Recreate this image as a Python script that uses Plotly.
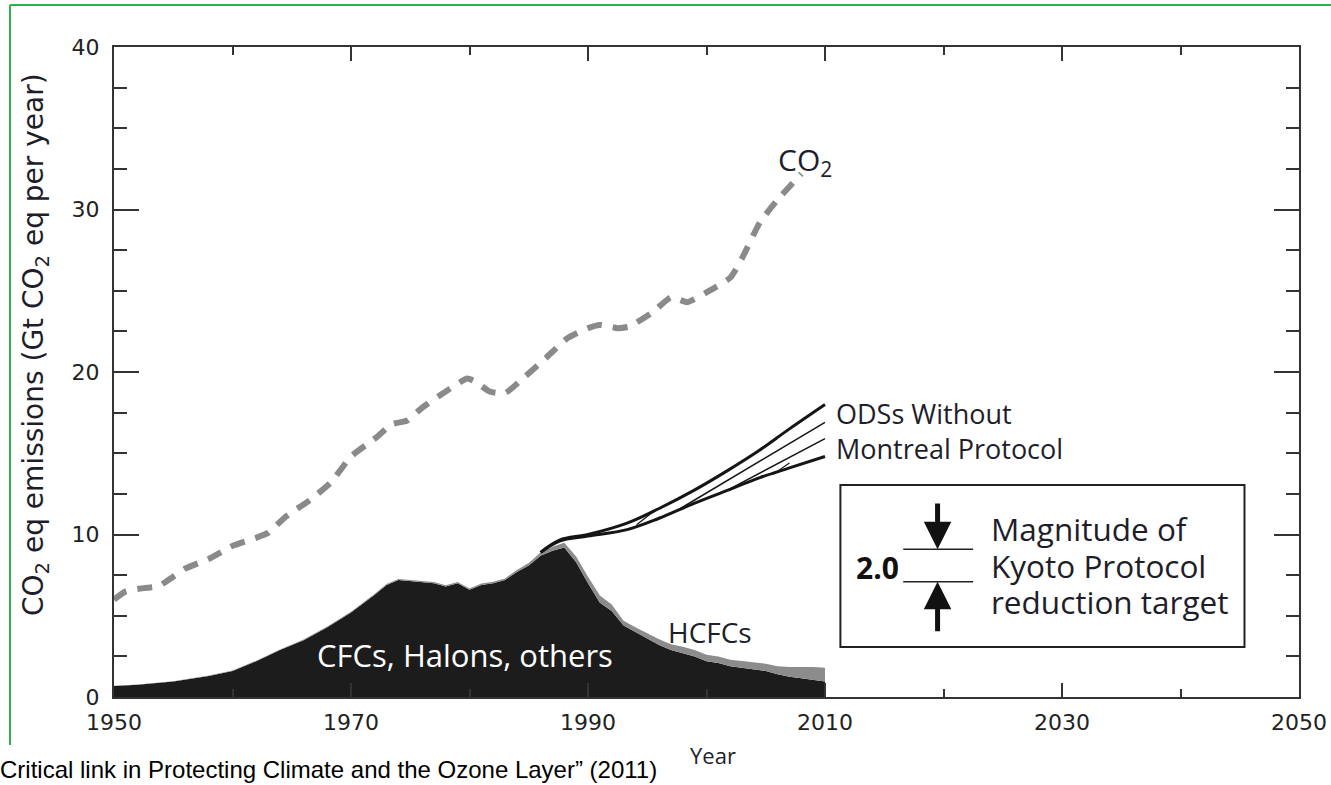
import numpy as np
import plotly.graph_objects as go

# ---------------- data ----------------
co2_years = [1950, 1951, 1952.5, 1953.7, 1955, 1956, 1958, 1960, 1962, 1963, 1964.5, 1966.5,
             1968.3, 1970, 1972, 1973.5, 1974.7, 1976, 1978, 1979.8, 1980.5, 1981.7, 1983,
             1984.5, 1986.5, 1988.3, 1990, 1991, 1992.5, 1993.5, 1995.5, 1997, 1998.4, 2000,
             2002, 2003, 2004.5, 2006, 2008]
co2_values = [6.0, 6.5, 6.7, 6.8, 7.4, 7.9, 8.5, 9.3, 9.8, 10.1, 11.1, 12.1,
              13.2, 14.8, 15.9, 16.8, 17.0, 17.8, 18.8, 19.6, 19.4, 18.8, 18.7,
              19.6, 20.9, 22.1, 22.7, 22.9, 22.7, 22.8, 23.7, 24.6, 24.3, 24.9,
              25.8, 27.0, 29.2, 30.6, 32.2]

ods_years = [1950, 1952, 1955, 1958, 1960, 1962, 1964, 1966, 1968, 1970, 1972, 1973, 1974,
             1975.5, 1977, 1978, 1979, 1980, 1981, 1982, 1983, 1984, 1985, 1986, 1987, 1988,
             1989, 1990, 1991, 1992, 1993, 1994, 1995, 1996, 1997, 1998, 1999, 2000, 2001,
             2002, 2003, 2004, 2005, 2006, 2007, 2008, 2009, 2010]
cfc_values = [0.68, 0.75, 0.95, 1.3, 1.6, 2.2, 2.9, 3.5, 4.3, 5.2, 6.3, 6.9, 7.2,
              7.1, 7.0, 6.8, 7.0, 6.6, 6.9, 7.0, 7.2, 7.7, 8.1, 8.7, 9.0, 9.2,
              8.3, 7.0, 5.8, 5.3, 4.4, 4.0, 3.6, 3.2, 2.9, 2.7, 2.5, 2.2, 2.1,
              1.9, 1.8, 1.7, 1.6, 1.4, 1.25, 1.15, 1.05, 0.95]
hcfc_values = [0.02, 0.02, 0.02, 0.02, 0.03, 0.03, 0.03, 0.04, 0.04, 0.05, 0.05, 0.05, 0.06,
               0.06, 0.07, 0.07, 0.08, 0.08, 0.09, 0.1, 0.1, 0.12, 0.15, 0.2, 0.25, 0.3,
               0.35, 0.4, 0.45, 0.4, 0.3, 0.3, 0.3, 0.35, 0.35, 0.4, 0.4, 0.4, 0.4,
               0.4, 0.42, 0.45, 0.45, 0.5, 0.6, 0.7, 0.8, 0.85]

# ODSs without Montreal Protocol (upper and lower bound scenarios)
wm_years = [1986, 1987.6, 1990, 1993.3, 1996, 1998.9, 2001.7, 2004.5, 2007, 2010]
wm_upper = [8.9, 9.66, 10.0, 10.7, 11.6, 12.7, 13.9, 15.2, 16.5, 18.0]
wm_lower = [8.9, 9.6, 9.9, 10.3, 11.0, 11.9, 12.7, 13.5, 14.1, 14.8]
# intermediate scenarios / hatching
mid1_years, mid1_values = [1997.8, 2010], [11.6, 16.9]
mid2_years, mid2_values = [2001.7, 2010], [12.7, 15.9]
hatch1_years, hatch1_values = [1994.1, 1995.5], [10.6, 11.4]
hatch2_years, hatch2_values = [2005.6, 2007.0], [13.7, 14.4]

kyoto_target = 2.0          # Gt CO2-eq per year
kyoto_upper = 9.1

x_ticks = [1950, 1970, 1990, 2010, 2030, 2050]
y_ticks = [0, 10, 20, 30, 40]

# ---------------- figure ----------------
W, H = 1331, 785
L, R, T, B = 114, 32, 47, 88
pw, ph = W - L - R, H - T - B


def px(xp):
    return (xp - L) / pw


def py(yp):
    return (H - B - yp) / ph


fig = go.Figure()

cfc = np.array(cfc_values)
hcfc_top = cfc + np.array(hcfc_values)

fig.add_trace(go.Scatter(x=ods_years, y=cfc, mode="lines", line=dict(width=0, color="#1c1c1c"),
                         fill="tozeroy", fillcolor="#1c1c1c", showlegend=False, hoverinfo="skip"))
fig.add_trace(go.Scatter(x=ods_years, y=hcfc_top, mode="lines", line=dict(width=0, color="#8c8c8c"),
                         fill="tonexty", fillcolor="#8c8c8c", showlegend=False, hoverinfo="skip"))

for xs, ys, w in [(wm_years, wm_upper, 3), (wm_years, wm_lower, 3),
                  (mid1_years, mid1_values, 1.5), (mid2_years, mid2_values, 1.5),
                  (hatch1_years, hatch1_values, 1.2), (hatch2_years, hatch2_values, 1.2)]:
    fig.add_trace(go.Scatter(x=xs, y=ys, mode="lines", line=dict(color="#151515", width=w, shape="spline"),
                             showlegend=False, hoverinfo="skip"))

fig.add_trace(go.Scatter(x=co2_years, y=co2_values, mode="lines",
                         line=dict(color="#8a8a8a", width=6, dash="15px,11px", shape="spline", smoothing=0.5),
                         showlegend=False))

axis_col = "#333333"
tickfont = dict(family="DejaVu Sans", size=22, color="#222222")
fig.update_xaxes(range=[1950, 2050], tickvals=x_ticks, ticks="inside", ticklen=14, tickwidth=2,
                 tickcolor=axis_col, showline=True, linewidth=2, linecolor=axis_col, mirror="ticks",
                 showgrid=False, zeroline=False, tickfont=tickfont, ticklabelstandoff=5, automargin=False,
                 minor=dict(tick0=1950, dtick=10, ticks="inside", ticklen=8, tickwidth=2, tickcolor=axis_col,
                            showgrid=False))
fig.update_yaxes(range=[0, 40], tickvals=y_ticks, ticks="inside", ticklen=25, tickwidth=2,
                 tickcolor=axis_col, showline=True, linewidth=2, linecolor=axis_col, mirror="ticks",
                 showgrid=False, zeroline=False, tickfont=tickfont, ticklabelstandoff=8, automargin=False,
                 minor=dict(tick0=0, dtick=2.5, ticks="inside", ticklen=13, tickwidth=2, tickcolor=axis_col,
                            showgrid=False))

cal = "Open Sans"
dark = "#1e1e2a"
ann = []


def paper_text(xp, yp, text, font, **kw):
    d = dict(x=px(xp), y=py(yp), xref="paper", yref="paper", showarrow=False, text=text, font=font,
             xanchor="center", yanchor="middle")
    d.update(kw)
    return d


ann.append(paper_text(35, 345, "CO<sub>2</sub> eq emissions (Gt CO<sub>2</sub> eq per year)",
                      dict(family="DejaVu Sans", size=28, color=dark), textangle=-90))
ann.append(paper_text(713, 755, "Year", dict(family=cal, size=22, color=dark)))
ann.append(paper_text(-2, 769, "Critical link in Protecting Climate and the Ozone Layer\u201d (2011)",
                      dict(family="Liberation Sans", size=24, color="#000000"), xanchor="left"))
ann.append(dict(x=2008.3, y=33.0, showarrow=False, text="CO<sub>2</sub>",
                font=dict(family=cal, size=30, color=dark)))
ann.append(dict(x=1979.6, y=2.6, showarrow=False, text="CFCs, Halons, others",
                font=dict(family=cal, size=31, color="white")))
ann.append(dict(x=2000.3, y=4.0, showarrow=False, text="HCFCs",
                font=dict(family=cal, size=28, color=dark)))
ann.append(dict(x=2010.8, y=17.45, xanchor="left", showarrow=False, text="ODSs Without",
                font=dict(family=cal, size=27, color=dark)))
ann.append(dict(x=2010.8, y=15.3, xanchor="left", showarrow=False, text="Montreal Protocol",
                font=dict(family=cal, size=27, color=dark)))
ann.append(dict(x=2014.4, y=7.95, showarrow=False, text="<b>2.0</b>",
                font=dict(family=cal, size=30, color="#111111")))
for yv, t in [(10.4, "Magnitude of"), (8.12, "Kyoto Protocol"), (5.85, "reduction target")]:
    ann.append(dict(x=2023.8, y=yv, xanchor="left", showarrow=False, text=t,
                    font=dict(family=cal, size=31.5, color=dark)))
# arrows
ann.append(dict(x=2019.5, y=kyoto_upper, ax=2019.5, ay=12.0, axref="x", ayref="y", text="",
                showarrow=True, arrowhead=2, arrowsize=1.1, arrowwidth=5, arrowcolor="#111111"))
ann.append(dict(x=2019.5, y=kyoto_upper - kyoto_target, ax=2019.5, ay=3.95, axref="x", ayref="y", text="",
                showarrow=True, arrowhead=2, arrowsize=1.1, arrowwidth=5, arrowcolor="#111111"))

shapes = []
shapes.append(dict(type="rect", x0=2011.3, x1=2045.4, y0=3.08, y1=13.05, line=dict(color="#222", width=2)))
for yv in [kyoto_upper, kyoto_upper - kyoto_target]:
    shapes.append(dict(type="line", x0=2016.6, x1=2022.5, y0=yv, y1=yv, line=dict(color="#222", width=1.5)))
green = "#2bb24c"
shapes.append(dict(type="line", xref="paper", yref="paper", x0=px(10), x1=px(10), y0=py(5), y1=py(745),
                   line=dict(color=green, width=2)))
shapes.append(dict(type="line", xref="paper", yref="paper", x0=px(10), x1=px(1340), y0=py(5), y1=py(5),
                   line=dict(color=green, width=2)))

fig.update_layout(width=W, height=H, margin=dict(l=L, r=R, t=T, b=B, autoexpand=False), plot_bgcolor="white",
                  paper_bgcolor="white", showlegend=False, annotations=ann, shapes=shapes)

fig.write_html("out.html", config={"displayModeBar": False},
               post_script="document.body.style.margin='0';document.body.style.overflow='hidden';")
